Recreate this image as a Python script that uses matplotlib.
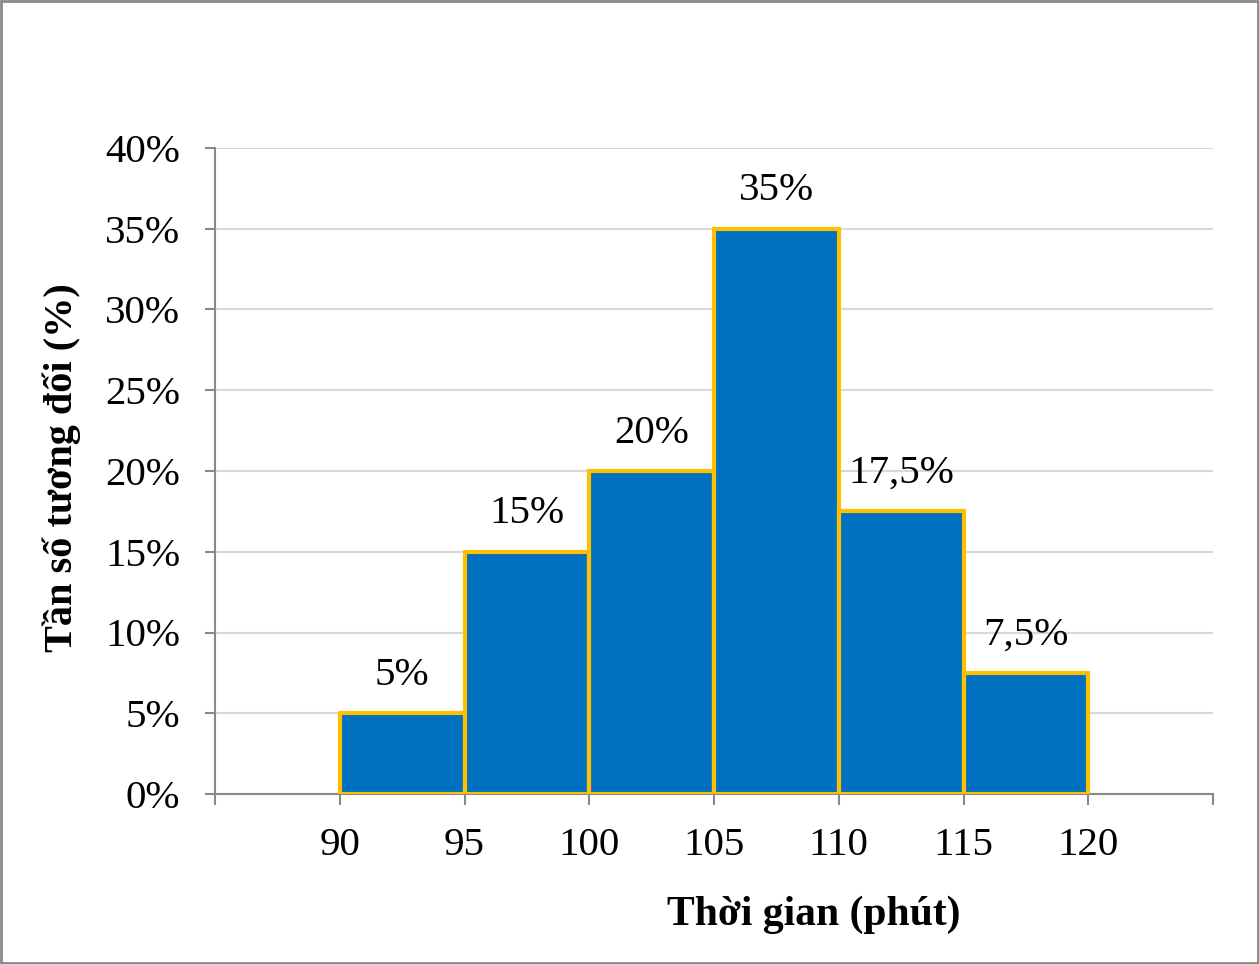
import matplotlib.pyplot as plt
from matplotlib.ticker import FuncFormatter, MultipleLocator

# du lieu
bin_edges = [90, 95, 100, 105, 110, 115, 120]
tan_so = [5, 15, 20, 35, 17.5, 7.5]
nhan = ["5%", "15%", "20%", "35%", "17,5%", "7,5%"]

plt.rcParams["font.family"] = ["Liberation Serif", "DejaVu Serif"]

fig = plt.figure(figsize=(12.59, 9.64), dpi=100)
ax = fig.add_axes([215 / 1259, 1 - 794 / 964, 998 / 1259, (794 - 148) / 964])

lefts = bin_edges[:-1]
widths = [b - a for a, b in zip(bin_edges[:-1], bin_edges[1:])]
bars = ax.bar(lefts, tan_so, width=widths, align="edge", color="#0070C0",
              edgecolor="#FFC000", linewidth=3, zorder=3)

for b, t in zip(bars, nhan):
    ax.text(b.get_x() + b.get_width() / 2, b.get_height() + 1.2, t,
            ha="center", va="bottom", fontsize=29.5)

ax.set_xlim(85, 125)
ax.set_ylim(0, 40)
ax.xaxis.set_major_locator(MultipleLocator(5))
ax.yaxis.set_major_locator(MultipleLocator(5))
ax.xaxis.set_major_formatter(FuncFormatter(lambda v, p: "" if v in (85, 125) else f"{v:g}"))
ax.yaxis.set_major_formatter(FuncFormatter(lambda v, p: f"{v:g}%"))

ax.grid(axis="y", color="#d9d9d9", linewidth=1.5, zorder=0)
for s in ["top", "right"]:
    ax.spines[s].set_visible(False)
for s in ["left", "bottom"]:
    ax.spines[s].set_color("#898989")
    ax.spines[s].set_linewidth(1.5)
ax.tick_params(axis="both", colors="#898989", labelcolor="black",
               labelsize=29.5, width=1.5)
ax.tick_params(axis="x", length=8, pad=16)
ax.tick_params(axis="y", length=7, pad=18)

ax.set_xlabel("Thời gian (phút)", fontsize=30, fontweight="bold")
ax.xaxis.set_label_coords(814 / 1259, 1 - 915 / 964, transform=fig.transFigure)
ax.xaxis.label.set_va("center")
ax.set_ylabel("Tần số tương đối (%)", fontsize=29, fontweight="bold")
ax.yaxis.set_label_coords(62 / 1259, 1 - 468 / 964, transform=fig.transFigure)
ax.yaxis.label.set_va("center")

# khung ngoai
fig.patches.append(plt.Rectangle((0.001, 0.001), 0.998, 0.998, transform=fig.transFigure,
                                 fill=False, edgecolor="#898989", linewidth=2))

fig.savefig("out.png", dpi=100)
